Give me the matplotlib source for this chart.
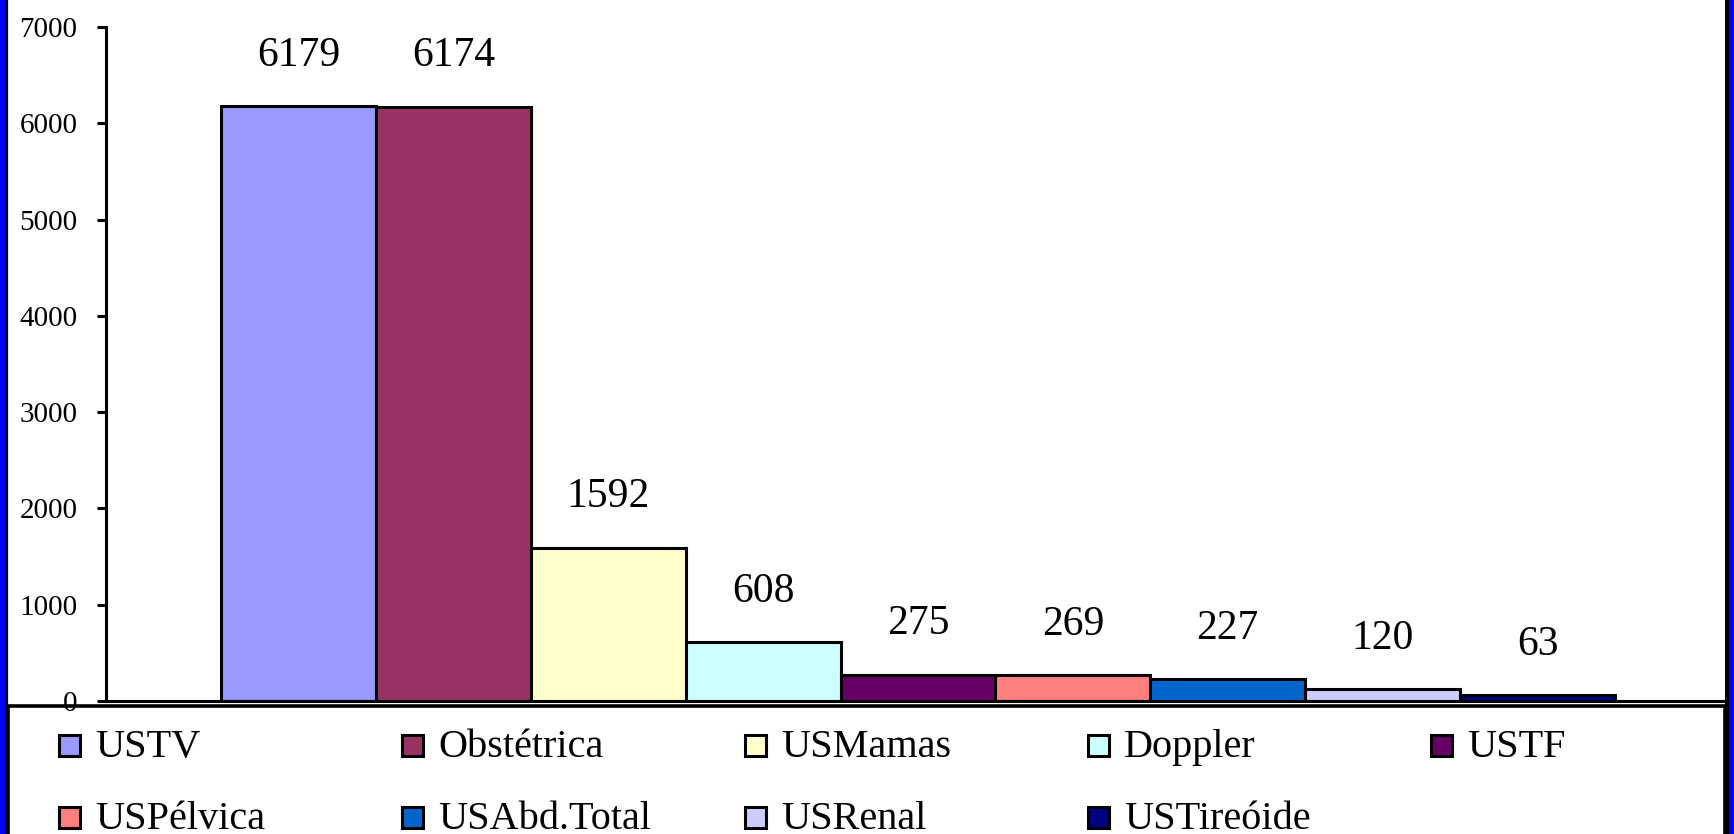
import matplotlib
matplotlib.use("Agg")
import matplotlib.pyplot as plt
from matplotlib.patches import Rectangle
from matplotlib.lines import Line2D
import numpy as np

categories = ["USTV", "Obstétrica", "USMamas", "Doppler", "USTF",
              "USPélvica", "USAbd.Total", "USRenal", "USTireóide"]
values = [6179, 6174, 1592, 608, 275, 269, 227, 120, 63]
colors = ["#9999FF", "#993366", "#FFFFCC", "#CCFFFF", "#660066",
          "#FF8080", "#0066CC", "#CCCCFF", "#000080"]
yticks = [0, 1000, 2000, 3000, 4000, 5000, 6000, 7000]

W, H = 1734, 834
SERIF = "Liberation Serif"
plt.rcParams["font.family"] = [SERIF, "DejaVu Serif"]

fig = plt.figure(figsize=(W / 100, H / 100), dpi=100)
fig.patch.set_facecolor("white")

def fx(px):
    return px / W

def fy(py):
    return 1 - py / H

# axes
ax_left, ax_right, ax_top, ax_bottom = 106, 1726, 27, 701
ax = fig.add_axes([fx(ax_left), fy(ax_bottom), (ax_right - ax_left) / W, (ax_bottom - ax_top) / H])
ax.set_facecolor("white")

x = np.arange(len(values))
ax.bar(x, values, width=1.0, align="edge", color=colors, edgecolor="black", linewidth=2.2)

bar_px = (1615 - 221) / 9.0
left_off = (221 - ax_left) / bar_px
total = (ax_right - ax_left) / bar_px
ax.set_xlim(-left_off, total - left_off)
ax.set_ylim(0, 7000)
ax.set_yticks(yticks)
ax.set_yticklabels([str(v) for v in yticks])
ax.set_xticks([])

for s in ["top", "right"]:
    ax.spines[s].set_visible(False)
for s in ["left", "bottom"]:
    ax.spines[s].set_linewidth(2.2)
ax.tick_params(axis="y", direction="out", length=6.5, width=2.2, pad=14, labelsize=21)

for xi, v in zip(x, values):
    ax.annotate(str(v), (xi + 0.5, v), xytext=(0, 29), textcoords="offset points",
                ha="center", va="baseline", fontsize=30, fontfamily=SERIF)

# frame decorations
fig.add_artist(Rectangle((0, 0), fx(6), 1, transform=fig.transFigure,
                         facecolor="#0000FF", edgecolor="none"))
fig.add_artist(Rectangle((fx(1729), 0), fx(5), 1, transform=fig.transFigure,
                         facecolor="#0000FF", edgecolor="none"))
fig.add_artist(Line2D([fx(7), fx(7)], [0, 1], transform=fig.transFigure, color="black", lw=1.6))
fig.add_artist(Line2D([fx(1727), fx(1727)], [0, 1], transform=fig.transFigure, color="black", lw=2.9))

# legend box
fig.add_artist(Rectangle((fx(8), fy(900)), (1725 - 8) / W, (900 - 706) / H,
                         transform=fig.transFigure, fill=False, edgecolor="black",
                         lw=2.6, clip_on=False))

# legend entries
col_x0, col_dx = 57, 343
row_base0, row_dy = 757, 72
sq = 21
for i, (name, c) in enumerate(zip(categories, colors)):
    col, row = i % 5, i // 5
    lx = col_x0 + col * col_dx
    base = row_base0 + row * row_dy
    fig.add_artist(Rectangle((fx(lx + 1.5), fy(base - 1.5)), sq / W, sq / H,
                             transform=fig.transFigure, facecolor=c,
                             edgecolor="black", lw=2.2))
    fig.text(fx(lx + 38), fy(base), name, ha="left", va="baseline",
             fontsize=29, fontfamily=SERIF)

fig.savefig("out.png", dpi=100)
